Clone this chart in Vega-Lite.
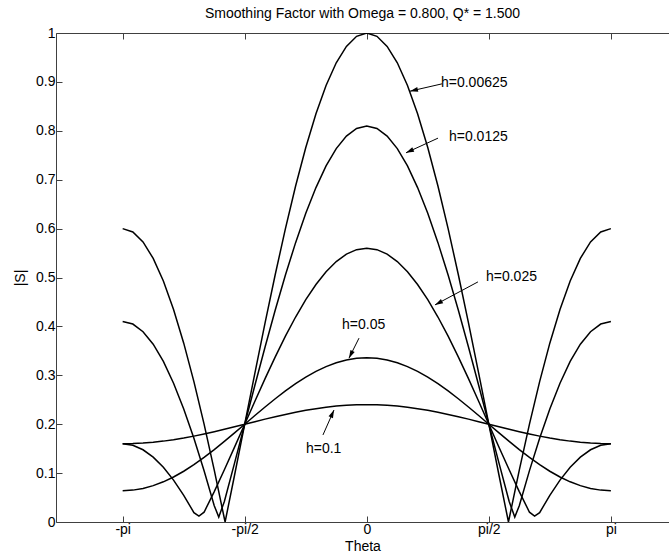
{
  "$schema": "https://vega.github.io/schema/vega-lite/v6.json",
  "usermeta": {"embedOptions": {"actions": false}},
  "width": 613,
  "height": 489,
  "autosize": {"type": "none"},
  "padding": {"left": 56, "top": 33, "right": 0, "bottom": 35},
  "background": "white",
  "title": {"text": "Smoothing Factor with Omega = 0.800, Q* = 1.500", "font": "Liberation Sans", "fontSize": 14, "fontWeight": "normal", "color": "#000", "anchor": "middle", "offset": 5},
  "config": {
    "view": {"stroke": null},
    "axis": {"labelFont": "Liberation Sans", "titleFont": "Liberation Sans", "labelFontSize": 14, "titleFontSize": 14, "titleFontWeight": "normal", "labelColor": "#000", "titleColor": "#000", "domainColor": "#404040", "tickColor": "#404040", "grid": false, "tickSize": -6, "domainWidth": 1, "tickWidth": 1}
  },
  "datasets": {
    "curves": [
      {"h":"0.00625","t":-3.142,"s":0.6},{"h":"0.00625","t":-3.011,"s":0.5932},{"h":"0.00625","t":-2.88,"s":0.5727},{"h":"0.00625","t":-2.749,"s":0.5391},{"h":"0.00625","t":-2.618,"s":0.4928},{"h":"0.00625","t":-2.487,"s":0.4347},{"h":"0.00625","t":-2.356,"s":0.3657},{"h":"0.00625","t":-2.225,"s":0.287},{"h":"0.00625","t":-2.094,"s":0.2},{"h":"0.00625","t":-1.963,"s":0.1061},{"h":"0.00625","t":-1.833,"s":0.0071},{"h":"0.00625","t":-1.8235,"s":0},{"h":"0.00625","t":-1.702,"s":0.0956},{"h":"0.00625","t":-1.571,"s":0.2},{"h":"0.00625","t":-1.44,"s":0.3044},{"h":"0.00625","t":-1.309,"s":0.4071},{"h":"0.00625","t":-1.178,"s":0.5061},{"h":"0.00625","t":-1.047,"s":0.6},{"h":"0.00625","t":-0.916,"s":0.687},{"h":"0.00625","t":-0.785,"s":0.7657},{"h":"0.00625","t":-0.654,"s":0.8347},{"h":"0.00625","t":-0.524,"s":0.8928},{"h":"0.00625","t":-0.393,"s":0.9391},{"h":"0.00625","t":-0.262,"s":0.9727},{"h":"0.00625","t":-0.131,"s":0.9932},{"h":"0.00625","t":0,"s":1},
      {"h":"0.00625","t":0.131,"s":0.9932},{"h":"0.00625","t":0.262,"s":0.9727},{"h":"0.00625","t":0.393,"s":0.9391},{"h":"0.00625","t":0.524,"s":0.8928},{"h":"0.00625","t":0.654,"s":0.8347},{"h":"0.00625","t":0.785,"s":0.7657},{"h":"0.00625","t":0.916,"s":0.687},{"h":"0.00625","t":1.047,"s":0.6},{"h":"0.00625","t":1.178,"s":0.5061},{"h":"0.00625","t":1.309,"s":0.4071},{"h":"0.00625","t":1.44,"s":0.3044},{"h":"0.00625","t":1.571,"s":0.2},{"h":"0.00625","t":1.702,"s":0.0956},{"h":"0.00625","t":1.8235,"s":0},{"h":"0.00625","t":1.833,"s":0.0071},{"h":"0.00625","t":1.963,"s":0.1061},{"h":"0.00625","t":2.094,"s":0.2},{"h":"0.00625","t":2.225,"s":0.287},{"h":"0.00625","t":2.356,"s":0.3657},{"h":"0.00625","t":2.487,"s":0.4347},{"h":"0.00625","t":2.618,"s":0.4928},{"h":"0.00625","t":2.749,"s":0.5391},{"h":"0.00625","t":2.88,"s":0.5727},{"h":"0.00625","t":3.011,"s":0.5932},{"h":"0.00625","t":3.142,"s":0.6},

      {"h":"0.0125","t":-3.142,"s":0.41},{"h":"0.0125","t":-3.011,"s":0.4048},{"h":"0.0125","t":-2.88,"s":0.3892},{"h":"0.0125","t":-2.749,"s":0.3636},{"h":"0.0125","t":-2.618,"s":0.3283},{"h":"0.0125","t":-2.487,"s":0.2839},{"h":"0.0125","t":-2.356,"s":0.2313},{"h":"0.0125","t":-2.225,"s":0.1713},{"h":"0.0125","t":-2.094,"s":0.105},{"h":"0.0125","t":-1.963,"s":0.0334},{"h":"0.0125","t":-1.905,"s":0.01},{"h":"0.0125","t":-1.833,"s":0.0421},{"h":"0.0125","t":-1.702,"s":0.1204},{"h":"0.0125","t":-1.571,"s":0.2},{"h":"0.0125","t":-1.44,"s":0.2796},{"h":"0.0125","t":-1.309,"s":0.3579},{"h":"0.0125","t":-1.178,"s":0.4334},{"h":"0.0125","t":-1.047,"s":0.505},{"h":"0.0125","t":-0.916,"s":0.5713},{"h":"0.0125","t":-0.785,"s":0.6313},{"h":"0.0125","t":-0.654,"s":0.6839},{"h":"0.0125","t":-0.524,"s":0.7283},{"h":"0.0125","t":-0.393,"s":0.7636},{"h":"0.0125","t":-0.262,"s":0.7892},{"h":"0.0125","t":-0.131,"s":0.8048},{"h":"0.0125","t":0,"s":0.81},
      {"h":"0.0125","t":0.131,"s":0.8048},{"h":"0.0125","t":0.262,"s":0.7892},{"h":"0.0125","t":0.393,"s":0.7636},{"h":"0.0125","t":0.524,"s":0.7283},{"h":"0.0125","t":0.654,"s":0.6839},{"h":"0.0125","t":0.785,"s":0.6313},{"h":"0.0125","t":0.916,"s":0.5713},{"h":"0.0125","t":1.047,"s":0.505},{"h":"0.0125","t":1.178,"s":0.4334},{"h":"0.0125","t":1.309,"s":0.3579},{"h":"0.0125","t":1.44,"s":0.2796},{"h":"0.0125","t":1.571,"s":0.2},{"h":"0.0125","t":1.702,"s":0.1204},{"h":"0.0125","t":1.833,"s":0.0421},{"h":"0.0125","t":1.905,"s":0.01},{"h":"0.0125","t":1.963,"s":0.0334},{"h":"0.0125","t":2.094,"s":0.105},{"h":"0.0125","t":2.225,"s":0.1713},{"h":"0.0125","t":2.356,"s":0.2313},{"h":"0.0125","t":2.487,"s":0.2839},{"h":"0.0125","t":2.618,"s":0.3283},{"h":"0.0125","t":2.749,"s":0.3636},{"h":"0.0125","t":2.88,"s":0.3892},{"h":"0.0125","t":3.011,"s":0.4048},{"h":"0.0125","t":3.142,"s":0.41},

      {"h":"0.025","t":-3.142,"s":0.16},{"h":"0.025","t":-3.011,"s":0.1569},{"h":"0.025","t":-2.88,"s":0.1477},{"h":"0.025","t":-2.749,"s":0.1326},{"h":"0.025","t":-2.618,"s":0.1118},{"h":"0.025","t":-2.487,"s":0.0856},{"h":"0.025","t":-2.356,"s":0.0546},{"h":"0.025","t":-2.225,"s":0.0192},{"h":"0.025","t":-2.16,"s":0.012},{"h":"0.025","t":-2.094,"s":0.02},{"h":"0.025","t":-1.963,"s":0.0622},{"h":"0.025","t":-1.833,"s":0.1068},{"h":"0.025","t":-1.702,"s":0.153},{"h":"0.025","t":-1.571,"s":0.2},{"h":"0.025","t":-1.44,"s":0.247},{"h":"0.025","t":-1.309,"s":0.2932},{"h":"0.025","t":-1.178,"s":0.3378},{"h":"0.025","t":-1.047,"s":0.38},{"h":"0.025","t":-0.916,"s":0.4192},{"h":"0.025","t":-0.785,"s":0.4546},{"h":"0.025","t":-0.654,"s":0.4856},{"h":"0.025","t":-0.524,"s":0.5118},{"h":"0.025","t":-0.393,"s":0.5326},{"h":"0.025","t":-0.262,"s":0.5477},{"h":"0.025","t":-0.131,"s":0.5569},{"h":"0.025","t":0,"s":0.56},
      {"h":"0.025","t":0.131,"s":0.5569},{"h":"0.025","t":0.262,"s":0.5477},{"h":"0.025","t":0.393,"s":0.5326},{"h":"0.025","t":0.524,"s":0.5118},{"h":"0.025","t":0.654,"s":0.4856},{"h":"0.025","t":0.785,"s":0.4546},{"h":"0.025","t":0.916,"s":0.4192},{"h":"0.025","t":1.047,"s":0.38},{"h":"0.025","t":1.178,"s":0.3378},{"h":"0.025","t":1.309,"s":0.2932},{"h":"0.025","t":1.44,"s":0.247},{"h":"0.025","t":1.571,"s":0.2},{"h":"0.025","t":1.702,"s":0.153},{"h":"0.025","t":1.833,"s":0.1068},{"h":"0.025","t":1.963,"s":0.0622},{"h":"0.025","t":2.094,"s":0.02},{"h":"0.025","t":2.16,"s":0.012},{"h":"0.025","t":2.225,"s":0.0192},{"h":"0.025","t":2.356,"s":0.0546},{"h":"0.025","t":2.487,"s":0.0856},{"h":"0.025","t":2.618,"s":0.1118},{"h":"0.025","t":2.749,"s":0.1326},{"h":"0.025","t":2.88,"s":0.1477},{"h":"0.025","t":3.011,"s":0.1569},{"h":"0.025","t":3.142,"s":0.16},

      {"h":"0.05","t":-3.142,"s":0.064},{"h":"0.05","t":-3.011,"s":0.0652},{"h":"0.05","t":-2.88,"s":0.0686},{"h":"0.05","t":-2.749,"s":0.0744},{"h":"0.05","t":-2.618,"s":0.0822},{"h":"0.05","t":-2.487,"s":0.0921},{"h":"0.05","t":-2.356,"s":0.1038},{"h":"0.05","t":-2.225,"s":0.1172},{"h":"0.05","t":-2.094,"s":0.132},{"h":"0.05","t":-1.963,"s":0.148},{"h":"0.05","t":-1.833,"s":0.1648},{"h":"0.05","t":-1.702,"s":0.1822},{"h":"0.05","t":-1.571,"s":0.2},{"h":"0.05","t":-1.44,"s":0.2178},{"h":"0.05","t":-1.309,"s":0.2352},{"h":"0.05","t":-1.178,"s":0.252},{"h":"0.05","t":-1.047,"s":0.268},{"h":"0.05","t":-0.916,"s":0.2828},{"h":"0.05","t":-0.785,"s":0.2962},{"h":"0.05","t":-0.654,"s":0.3079},{"h":"0.05","t":-0.524,"s":0.3178},{"h":"0.05","t":-0.393,"s":0.3256},{"h":"0.05","t":-0.262,"s":0.3314},{"h":"0.05","t":-0.131,"s":0.3348},{"h":"0.05","t":0,"s":0.336},
      {"h":"0.05","t":0.131,"s":0.3348},{"h":"0.05","t":0.262,"s":0.3314},{"h":"0.05","t":0.393,"s":0.3256},{"h":"0.05","t":0.524,"s":0.3178},{"h":"0.05","t":0.654,"s":0.3079},{"h":"0.05","t":0.785,"s":0.2962},{"h":"0.05","t":0.916,"s":0.2828},{"h":"0.05","t":1.047,"s":0.268},{"h":"0.05","t":1.178,"s":0.252},{"h":"0.05","t":1.309,"s":0.2352},{"h":"0.05","t":1.44,"s":0.2178},{"h":"0.05","t":1.571,"s":0.2},{"h":"0.05","t":1.702,"s":0.1822},{"h":"0.05","t":1.833,"s":0.1648},{"h":"0.05","t":1.963,"s":0.148},{"h":"0.05","t":2.094,"s":0.132},{"h":"0.05","t":2.225,"s":0.1172},{"h":"0.05","t":2.356,"s":0.1038},{"h":"0.05","t":2.487,"s":0.0921},{"h":"0.05","t":2.618,"s":0.0822},{"h":"0.05","t":2.749,"s":0.0744},{"h":"0.05","t":2.88,"s":0.0686},{"h":"0.05","t":3.011,"s":0.0652},{"h":"0.05","t":3.142,"s":0.064},

      {"h":"0.1","t":-3.142,"s":0.16},{"h":"0.1","t":-3.011,"s":0.1603},{"h":"0.1","t":-2.88,"s":0.1614},{"h":"0.1","t":-2.749,"s":0.163},{"h":"0.1","t":-2.618,"s":0.1654},{"h":"0.1","t":-2.487,"s":0.1683},{"h":"0.1","t":-2.356,"s":0.1717},{"h":"0.1","t":-2.225,"s":0.1756},{"h":"0.1","t":-2.094,"s":0.18},{"h":"0.1","t":-1.963,"s":0.1847},{"h":"0.1","t":-1.833,"s":0.1896},{"h":"0.1","t":-1.702,"s":0.1948},{"h":"0.1","t":-1.571,"s":0.2},{"h":"0.1","t":-1.44,"s":0.2052},{"h":"0.1","t":-1.309,"s":0.2104},{"h":"0.1","t":-1.178,"s":0.2153},{"h":"0.1","t":-1.047,"s":0.22},{"h":"0.1","t":-0.916,"s":0.2244},{"h":"0.1","t":-0.785,"s":0.2283},{"h":"0.1","t":-0.654,"s":0.2317},{"h":"0.1","t":-0.524,"s":0.2346},{"h":"0.1","t":-0.393,"s":0.237},{"h":"0.1","t":-0.262,"s":0.2386},{"h":"0.1","t":-0.131,"s":0.2397},{"h":"0.1","t":0,"s":0.24},
      {"h":"0.1","t":0.131,"s":0.2397},{"h":"0.1","t":0.262,"s":0.2386},{"h":"0.1","t":0.393,"s":0.237},{"h":"0.1","t":0.524,"s":0.2346},{"h":"0.1","t":0.654,"s":0.2317},{"h":"0.1","t":0.785,"s":0.2283},{"h":"0.1","t":0.916,"s":0.2244},{"h":"0.1","t":1.047,"s":0.22},{"h":"0.1","t":1.178,"s":0.2153},{"h":"0.1","t":1.309,"s":0.2104},{"h":"0.1","t":1.44,"s":0.2052},{"h":"0.1","t":1.571,"s":0.2},{"h":"0.1","t":1.702,"s":0.1948},{"h":"0.1","t":1.833,"s":0.1896},{"h":"0.1","t":1.963,"s":0.1847},{"h":"0.1","t":2.094,"s":0.18},{"h":"0.1","t":2.225,"s":0.1756},{"h":"0.1","t":2.356,"s":0.1717},{"h":"0.1","t":2.487,"s":0.1683},{"h":"0.1","t":2.618,"s":0.1654},{"h":"0.1","t":2.749,"s":0.163},{"h":"0.1","t":2.88,"s":0.1614},{"h":"0.1","t":3.011,"s":0.1603},{"h":"0.1","t":3.142,"s":0.16}
    ],
    "arrows": [
      {"h":"0.00625","sx":0.968,"sy":0.896,"tx":0.556,"ty":0.881},
      {"h":"0.0125","sx":0.917,"sy":0.785,"tx":0.505,"ty":0.755},
      {"h":"0.025","sx":1.431,"sy":0.491,"tx":0.878,"ty":0.444},
      {"h":"0.05","sx":-0.1,"sy":0.376,"tx":-0.229,"ty":0.335},
      {"h":"0.1","sx":-0.564,"sy":0.178,"tx":-0.422,"ty":0.229}
    ],
    "labels": [
      {"label":"h=0.00625","x":0.955,"y":0.898},
      {"label":"h=0.0125","x":1.058,"y":0.787},
      {"label":"h=0.025","x":1.534,"y":0.501},
      {"label":"h=0.05","x":-0.319,"y":0.403},
      {"label":"h=0.1","x":-0.783,"y":0.149}
    ]
  },
  "layer": [
    {
      "data": {"name": "curves"},
      "mark": {"type": "line", "color": "#000", "strokeWidth": 1.5, "clip": true},
      "encoding": {
        "x": {"field": "t", "type": "quantitative", "scale": {"domain": [-4, 3.89], "nice": false, "zero": false},
          "axis": {"orient": "bottom", "title": "Theta", "values": [-3.14159, -1.5708, 0, 1.5708, 3.14159],
            "labelExpr": "datum.value < -3 ? '-pi' : datum.value < -1 ? '-pi/2' : datum.value < 1 ? '0' : datum.value < 2 ? 'pi/2' : 'pi'",
            "labelPadding": 6, "titlePadding": 3}},
        "y": {"field": "s", "type": "quantitative", "scale": {"domain": [0, 1], "nice": false},
          "axis": {"orient": "left", "title": "|S|", "values": [0, 0.1, 0.2, 0.3, 0.4, 0.5, 0.6, 0.7, 0.8, 0.9, 1], "format": ".1~f", "labelPadding": 7, "titlePadding": 8}},
        "detail": {"field": "h", "type": "nominal"}
      }
    },
    {
      "data": {"name": "arrows"},
      "mark": {"type": "rule", "color": "#000", "strokeWidth": 1},
      "encoding": {
        "x": {"field": "sx", "type": "quantitative", "axis": {"orient": "top", "title": null, "labels": false, "values": [-3.14159, -1.5708, 0, 1.5708, 3.14159]}},
        "y": {"field": "sy", "type": "quantitative", "axis": null},
        "x2": {"field": "tx"},
        "y2": {"field": "ty"}
      }
    },
    {
      "data": {"name": "arrows"},
      "transform": [{"calculate": "atan2((datum.tx - datum.sx) * 77.69, (datum.ty - datum.sy) * 489) * 180 / PI", "as": "ang"}],
      "mark": {"type": "point", "shape": "M0,0L-0.6,2L0.6,2Z", "filled": true, "color": "#000", "opacity": 1, "size": 64},
      "encoding": {
        "x": {"field": "tx", "type": "quantitative", "axis": null},
        "y": {"field": "ty", "type": "quantitative", "axis": null},
        "angle": {"field": "ang", "type": "quantitative", "scale": null}
      }
    },
    {
      "data": {"name": "labels"},
      "mark": {"type": "text", "align": "left", "baseline": "middle", "font": "Liberation Sans", "fontSize": 14, "color": "#000"},
      "encoding": {
        "x": {"field": "x", "type": "quantitative", "axis": null},
        "y": {"field": "y", "type": "quantitative", "axis": null},
        "text": {"field": "label"}
      }
    }
  ],
  "resolve": {"axis": {"x": "independent", "y": "independent"}}
}
